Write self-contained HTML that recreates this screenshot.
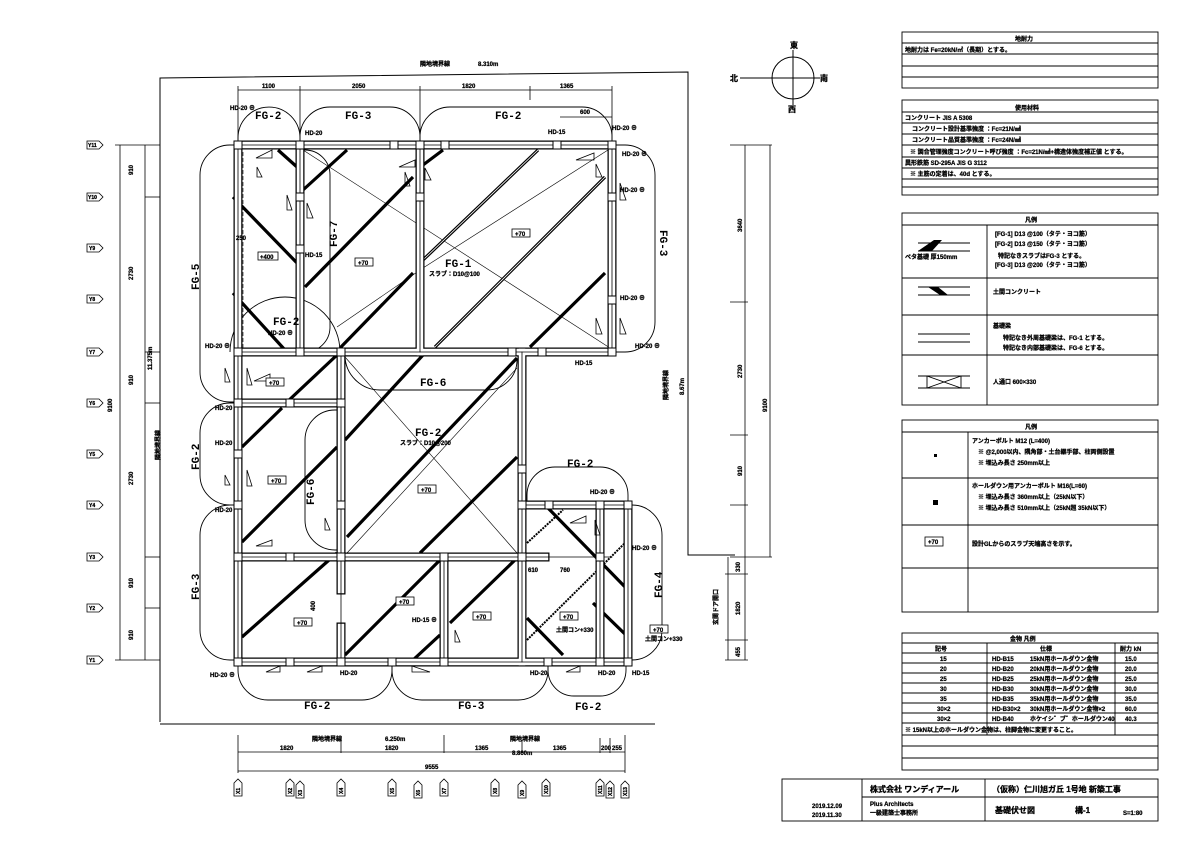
<!DOCTYPE html>
<html><head><meta charset="utf-8"><style>
html,body{margin:0;padding:0;background:#fff;}
svg{display:block;font-family:"Liberation Sans","Noto Sans CJK JP",sans-serif;}
.t{font-size:8px;font-weight:bold;fill:#000;stroke:#000;stroke-width:0.3;}
.s{font-size:6px;font-weight:bold;fill:#000;stroke:#000;stroke-width:0.25;}
.fg{font-size:11px;font-weight:bold;fill:#000;font-family:"Liberation Mono","Noto Sans CJK JP",monospace;}
</style></head><body>
<svg width="1191" height="842" viewBox="0 0 1191 842" xmlns="http://www.w3.org/2000/svg">
<rect width="1191" height="842" fill="#fff"/>
<g fill="none" stroke="#000" stroke-width="1">
<path d="M160,722 V78 L688,72 V555 H735"/>
<line x1="160" y1="724" x2="655" y2="724"/>
<circle cx="793" cy="78" r="21"/>
<line x1="740" y1="78" x2="820" y2="78"/><line x1="793" y1="50" x2="793" y2="105"/>
</g>
<text class="t" x="730" y="81">北</text><text class="t" x="790" y="48">東</text><text class="t" x="788" y="112">西</text><text class="t" x="820" y="81">南</text>

<g stroke="#000" stroke-width="0.8" fill="none">
<line x1="238" y1="90" x2="612" y2="90"/>
<line x1="238" y1="86" x2="238" y2="140"/><line x1="300" y1="86" x2="300" y2="140"/><line x1="420" y1="86" x2="420" y2="140"/><line x1="530" y1="86" x2="530" y2="100"/><line x1="612" y1="86" x2="612" y2="140"/>
<line x1="560" y1="117" x2="612" y2="117"/>
</g>
<text class="s" x="262" y="88">1100</text><text class="s" x="352" y="88">2050</text><text class="s" x="462" y="88">1820</text><text class="s" x="560" y="88">1365</text><text class="s" x="580" y="114">600</text>
<text class="s" x="420" y="66">隣地境界線</text><text class="s" x="478" y="66">8.310m</text>

<g stroke="#000" stroke-width="0.8" fill="none">
<line x1="120" y1="145" x2="120" y2="660"/><line x1="145" y1="145" x2="145" y2="660"/>
<line x1="115" y1="145" x2="160" y2="145"/><line x1="145" y1="197" x2="160" y2="197"/><line x1="145" y1="352" x2="160" y2="352"/><line x1="145" y1="403" x2="160" y2="403"/><line x1="145" y1="557" x2="160" y2="557"/><line x1="145" y1="608" x2="160" y2="608"/><line x1="115" y1="660" x2="160" y2="660"/>
</g>
<g class="s">
<text transform="translate(133,175) rotate(-90)">910</text><text transform="translate(133,280) rotate(-90)">2730</text><text transform="translate(133,385) rotate(-90)">910</text><text transform="translate(133,485) rotate(-90)">2730</text><text transform="translate(133,588) rotate(-90)">910</text><text transform="translate(133,640) rotate(-90)">910</text>
<text transform="translate(112,412) rotate(-90)">9100</text><text transform="translate(152,370) rotate(-90)">11.375m</text><text transform="translate(160,460) rotate(-90)">隣地境界線</text>
</g>
<g stroke="#000" stroke-width="0.8" fill="#fff">
<path d="M87,141 H99 L103,145 L99,149 H87 Z"/><path d="M87,193 H99 L103,197 L99,201 H87 Z"/><path d="M87,244 H99 L103,248 L99,252 H87 Z"/><path d="M87,295 H99 L103,299 L99,303 H87 Z"/><path d="M87,348 H99 L103,352 L99,356 H87 Z"/><path d="M87,399 H99 L103,403 L99,407 H87 Z"/><path d="M87,450 H99 L103,454 L99,458 H87 Z"/><path d="M87,501 H99 L103,505 L99,509 H87 Z"/><path d="M87,553 H99 L103,557 L99,561 H87 Z"/><path d="M87,604 H99 L103,608 L99,612 H87 Z"/><path d="M87,656 H99 L103,660 L99,664 H87 Z"/>
</g>
<g style="font-size:5px;font-weight:bold" stroke="#000" stroke-width="0.3">
<text x="88" y="147">Y11</text><text x="88" y="199">Y10</text><text x="89" y="250">Y9</text><text x="89" y="301">Y8</text><text x="89" y="354">Y7</text><text x="89" y="405">Y6</text><text x="89" y="456">Y5</text><text x="89" y="507">Y4</text><text x="89" y="559">Y3</text><text x="89" y="610">Y2</text><text x="89" y="662">Y1</text>
</g>

<g stroke="#000" stroke-width="0.8" fill="none">
<line x1="745" y1="145" x2="745" y2="660"/><line x1="770" y1="145" x2="770" y2="557"/>
<line x1="730" y1="145" x2="772" y2="145"/><line x1="730" y1="302" x2="748" y2="302"/><line x1="730" y1="435" x2="748" y2="435"/><line x1="730" y1="505" x2="748" y2="505"/><line x1="730" y1="557" x2="772" y2="557"/>
<line x1="728" y1="557" x2="728" y2="660"/><line x1="725" y1="574" x2="748" y2="574"/><line x1="725" y1="640" x2="748" y2="640"/><line x1="725" y1="660" x2="748" y2="660"/>
</g>
<g class="s">
<text transform="translate(742,232) rotate(-90)">3640</text><text transform="translate(742,378) rotate(-90)">2730</text><text transform="translate(742,476) rotate(-90)">910</text><text transform="translate(767,412) rotate(-90)">9100</text>
<text transform="translate(740,572) rotate(-90)">330</text><text transform="translate(740,615) rotate(-90)">1820</text><text transform="translate(740,657) rotate(-90)">455</text>
<text transform="translate(718,625) rotate(-90)">玄関ドア開口</text>
<text transform="translate(668,400) rotate(-90)">隣地境界線</text><text transform="translate(684,395) rotate(-90)">8.67m</text>
</g>

<g stroke="#000" stroke-width="0.8" fill="none">
<line x1="238" y1="752" x2="625" y2="752"/><line x1="238" y1="771" x2="625" y2="771"/>
<line x1="238" y1="735" x2="238" y2="773"/><line x1="341" y1="740" x2="341" y2="753"/><line x1="444" y1="735" x2="444" y2="753"/><line x1="522" y1="740" x2="522" y2="753"/><line x1="600" y1="738" x2="600" y2="753"/><line x1="610" y1="738" x2="610" y2="753"/><line x1="625" y1="735" x2="625" y2="773"/>
</g>
<g class="s">
<text x="280" y="750">1820</text><text x="385" y="750">1820</text><text x="475" y="750">1365</text><text x="553" y="750">1365</text><text x="601" y="750">200</text><text x="612" y="750">255</text><text x="425" y="769">9555</text>
<text x="312" y="741">隣地境界線</text><text x="385" y="741">6.250m</text><text x="510" y="741">隣地境界線</text><text x="512" y="755">8.860m</text>
</g>
<g stroke="#000" stroke-width="0.8" fill="#fff">
<path d="M234,796 V783 L238,779 L242,783 V796 Z"/><path d="M286,796 V783 L290,779 L294,783 V796 Z"/><path d="M296,798 V785 L300,781 L304,785 V798 Z"/><path d="M337,796 V783 L341,779 L345,783 V796 Z"/><path d="M388,796 V783 L392,779 L396,783 V796 Z"/><path d="M414,798 V785 L418,781 L422,785 V798 Z"/><path d="M440,796 V783 L444,779 L448,783 V796 Z"/><path d="M491,796 V783 L495,779 L499,783 V796 Z"/><path d="M518,798 V785 L522,781 L526,785 V798 Z"/><path d="M542,796 V783 L546,779 L550,783 V796 Z"/><path d="M596,796 V783 L600,779 L604,783 V796 Z"/><path d="M606,798 V785 L610,781 L614,785 V798 Z"/><path d="M621,798 V785 L625,781 L629,785 V798 Z"/>
</g>
<g style="font-size:5px;font-weight:bold" stroke="#000" stroke-width="0.3">
<text transform="translate(240,794) rotate(-90)">X1</text><text transform="translate(292,794) rotate(-90)">X2</text><text transform="translate(302,796) rotate(-90)">X3</text><text transform="translate(343,794) rotate(-90)">X4</text><text transform="translate(394,794) rotate(-90)">X5</text><text transform="translate(420,796) rotate(-90)">X6</text><text transform="translate(446,794) rotate(-90)">X7</text><text transform="translate(497,794) rotate(-90)">X8</text><text transform="translate(524,796) rotate(-90)">X9</text><text transform="translate(548,794) rotate(-90)">X10</text><text transform="translate(602,794) rotate(-90)">X11</text><text transform="translate(612,796) rotate(-90)">X12</text><text transform="translate(627,796) rotate(-90)">X13</text>
</g>

<g fill="none" stroke="#000" stroke-width="0.9">
<path d="M238,145 V138 A31,31 0 0 1 300,138 V145"/>
<path d="M300,145 V137 A30,30 0 0 1 330,107 H390 A30,30 0 0 1 420,137 V145"/>
<path d="M420,145 V137 A30,30 0 0 1 450,107 H582 A30,30 0 0 1 612,137 V145"/>
<path d="M612,145 H625 A30,30 0 0 1 655,175 V322 A30,30 0 0 1 625,352 H612"/>
<path d="M238,145 H230 A30,30 0 0 0 200,175 V372 A30,30 0 0 0 230,402 H238"/>
<path d="M238,403 H230 A30,30 0 0 0 200,433 V475 A30,30 0 0 0 230,505 H238"/>
<path d="M238,505 H230 A30,30 0 0 0 200,535 V630 A30,30 0 0 0 230,660 H238"/>
<path d="M238,662 V670 A30,30 0 0 0 268,700 H362 A30,30 0 0 0 392,670 V662"/>
<path d="M392,662 V670 A30,30 0 0 0 422,700 H518 A30,30 0 0 0 548,670 V662"/>
<path d="M548,662 V670 A26,26 0 0 0 574,696 H600 A26,26 0 0 0 626,670 V662"/>
<path d="M628,505 H632 A30,30 0 0 1 662,535 V630 A30,30 0 0 1 632,660 H628"/>
<path d="M527,505 V495 A28,28 0 0 1 555,467 H600 A28,28 0 0 1 628,495 V505"/>
<path d="M341,410 H335 A30,30 0 0 0 305,440 V520 A30,30 0 0 0 335,550 H341"/>
<path d="M345,355 A35,35 0 0 0 380,390 H487 A30,30 0 0 0 517,360"/>
<path d="M300,150 H305 A25,25 0 0 1 330,175 V328 A25,25 0 0 1 305,352"/>
<path d="M230,352 A40,40 0 0 1 340,352"/>
</g>

<g stroke="#000" stroke-width="0.6">
<line x1="303" y1="150" x2="610" y2="348"/><line x1="337" y1="327" x2="423" y2="268"/><line x1="423" y1="268" x2="608" y2="150"/>
<line x1="345" y1="357" x2="517" y2="553"/><line x1="347" y1="553" x2="517" y2="368"/>
<line x1="243" y1="152" x2="243" y2="348" stroke-dasharray="4,2"/>
</g>
<g stroke="#000" stroke-width="3.2" stroke-linecap="butt">
<line x1="233" y1="197" x2="297" y2="263"/><line x1="233" y1="293" x2="285" y2="350"/><line x1="278" y1="150" x2="297" y2="167"/>
<line x1="303" y1="190" x2="347" y2="150"/><line x1="305" y1="287" x2="413" y2="177"/><line x1="340" y1="348" x2="413" y2="273"/>
<line x1="423" y1="165" x2="443" y2="150"/><line x1="423" y1="260" x2="538" y2="150"/><line x1="435" y1="347" x2="605" y2="177"/><line x1="530" y1="347" x2="605" y2="273"/>
<line x1="242" y1="542" x2="337" y2="447"/><line x1="242" y1="447" x2="282" y2="408"/><line x1="287" y1="402" x2="337" y2="355"/><line x1="242" y1="637" x2="337" y2="553"/>
<line x1="345" y1="440" x2="423" y2="355"/><line x1="347" y1="537" x2="517" y2="358"/><line x1="420" y1="553" x2="517" y2="457"/>
<line x1="345" y1="655" x2="440" y2="560"/><line x1="450" y1="623" x2="515" y2="560"/><line x1="413" y1="660" x2="440" y2="635"/>
<line x1="547" y1="507" x2="628" y2="590"/><line x1="527" y1="618" x2="563" y2="655"/><line x1="593" y1="603" x2="628" y2="637"/>
</g>
<g stroke="#fff" stroke-width="0.8">
<line x1="423" y1="260" x2="538" y2="150"/><line x1="435" y1="347" x2="605" y2="177"/>
</g>
<g stroke="#000" stroke-width="2" stroke-dasharray="2,1">
<line x1="527" y1="640" x2="628" y2="540"/><line x1="527" y1="543" x2="563" y2="510"/>
</g>

<g stroke-linecap="square">
<g stroke="#000" stroke-width="9">
<line x1="238" y1="145" x2="612" y2="145"/><line x1="238" y1="352" x2="612" y2="352"/><line x1="238" y1="403" x2="341" y2="403"/><line x1="238" y1="557" x2="545" y2="557"/><line x1="522" y1="505" x2="628" y2="505"/><line x1="238" y1="662" x2="628" y2="662"/>
<line x1="238" y1="145" x2="238" y2="662"/><line x1="300" y1="145" x2="300" y2="352"/><line x1="420" y1="145" x2="420" y2="352"/><line x1="612" y1="145" x2="612" y2="352"/><line x1="341" y1="352" x2="341" y2="590"/><line x1="341" y1="627" x2="341" y2="662"/><line x1="522" y1="352" x2="522" y2="662"/><line x1="444" y1="557" x2="444" y2="662"/><line x1="600" y1="505" x2="600" y2="662"/><line x1="628" y1="505" x2="628" y2="662"/>
</g>
<g stroke="#fff" stroke-width="6.5">
<line x1="238" y1="145" x2="612" y2="145"/><line x1="238" y1="352" x2="612" y2="352"/><line x1="238" y1="403" x2="341" y2="403"/><line x1="238" y1="557" x2="545" y2="557"/><line x1="522" y1="505" x2="628" y2="505"/><line x1="238" y1="662" x2="628" y2="662"/>
<line x1="238" y1="145" x2="238" y2="662"/><line x1="300" y1="145" x2="300" y2="352"/><line x1="420" y1="145" x2="420" y2="352"/><line x1="612" y1="145" x2="612" y2="352"/><line x1="341" y1="352" x2="341" y2="590"/><line x1="341" y1="627" x2="341" y2="662"/><line x1="522" y1="352" x2="522" y2="662"/><line x1="444" y1="557" x2="444" y2="662"/><line x1="600" y1="505" x2="600" y2="662"/><line x1="628" y1="505" x2="628" y2="662"/>
</g>
<g stroke="#000" stroke-width="0.8">
<line x1="238" y1="145" x2="612" y2="145"/><line x1="238" y1="352" x2="612" y2="352"/><line x1="238" y1="403" x2="341" y2="403"/><line x1="238" y1="557" x2="612" y2="557"/><line x1="522" y1="505" x2="628" y2="505"/><line x1="238" y1="662" x2="628" y2="662"/>
<line x1="238" y1="145" x2="238" y2="662"/><line x1="300" y1="145" x2="300" y2="352"/><line x1="420" y1="145" x2="420" y2="352"/><line x1="612" y1="145" x2="612" y2="352"/><line x1="341" y1="352" x2="341" y2="662"/><line x1="522" y1="352" x2="522" y2="662"/><line x1="444" y1="557" x2="444" y2="662"/><line x1="600" y1="505" x2="600" y2="662"/><line x1="628" y1="505" x2="628" y2="662"/>
</g>
</g>
<g fill="#fff" stroke="#000" stroke-width="1">
<rect x="234" y="141" width="8" height="8"/><rect x="296" y="141" width="8" height="8"/><rect x="390" y="141" width="8" height="8"/><rect x="416" y="141" width="8" height="8"/><rect x="441" y="141" width="8" height="8"/><rect x="553" y="141" width="8" height="8"/><rect x="608" y="141" width="8" height="8"/>
<rect x="296" y="193" width="8" height="8"/><rect x="296" y="245" width="8" height="8"/><rect x="416" y="193" width="8" height="8"/><rect x="608" y="193" width="8" height="8"/><rect x="608" y="296" width="8" height="8"/>
<rect x="234" y="348" width="8" height="8"/><rect x="296" y="348" width="8" height="8"/><rect x="337" y="348" width="8" height="8"/><rect x="508" y="348" width="8" height="8"/><rect x="538" y="348" width="8" height="8"/><rect x="608" y="348" width="8" height="8"/>
<rect x="234" y="399" width="8" height="8"/><rect x="286" y="399" width="8" height="8"/><rect x="337" y="399" width="8" height="8"/><rect x="234" y="450" width="8" height="8"/><rect x="234" y="501" width="8" height="8"/><rect x="337" y="501" width="8" height="8"/><rect x="518" y="465" width="8" height="8"/><rect x="518" y="501" width="8" height="8"/><rect x="545" y="501" width="8" height="8"/><rect x="596" y="501" width="8" height="8"/><rect x="624" y="501" width="8" height="8"/>
<rect x="234" y="553" width="8" height="8"/><rect x="286" y="553" width="8" height="8"/><rect x="337" y="553" width="8" height="8"/><rect x="440" y="553" width="8" height="8"/><rect x="518" y="553" width="8" height="8"/><rect x="596" y="553" width="8" height="8"/>
<rect x="234" y="658" width="8" height="8"/><rect x="286" y="658" width="8" height="8"/><rect x="337" y="658" width="8" height="8"/><rect x="388" y="658" width="8" height="8"/><rect x="440" y="658" width="8" height="8"/><rect x="544" y="658" width="8" height="8"/><rect x="596" y="658" width="8" height="8"/><rect x="624" y="658" width="8" height="8"/>
</g>
<g fill="none" stroke="#000" stroke-width="0.8">
<path d="M256,158 L272,150 V158 Z"/><path d="M257,177 V167 L262,177 Z"/><path d="M287,210 V195 L292,210 Z"/><path d="M307,218 V203 L313,218 Z"/><path d="M399,167 L415,160 V167 Z"/><path d="M405,172 V186 L410,186 Z"/>
<path d="M576,160 L594,153 V160 Z"/><path d="M596,164 V177 L602,177 Z"/><path d="M596,318 V334 L602,334 Z"/><path d="M620,183 V200 L626,200 Z"/><path d="M620,318 V334 L626,334 Z"/><path d="M425,168 V180 L431,180 Z"/>
<path d="M225,368 V382 L230,382 Z"/><path d="M254,381 L270,374 V381 Z"/><path d="M247,368 V385 L252,385 Z"/><path d="M225,475 V485 L230,485 Z"/><path d="M247,470 V486 L252,486 Z"/><path d="M256,546 L272,540 V546 Z"/><path d="M325,518 V530 L330,530 Z"/>
<path d="M266,672 L280,666 V672 Z"/><path d="M307,672 L322,666 V672 Z"/><path d="M412,666 V672 L430,672 Z"/><path d="M566,672 L580,666 V672 Z"/><path d="M570,523 L586,516 V523 Z"/><path d="M595,520 V535 L600,535 Z"/><path d="M455,630 V642 L460,642 Z"/>
</g>
<g fill="#fff" stroke="#000" stroke-width="0.8">
<rect x="258" y="252" width="20" height="8"/><rect x="355" y="258" width="18" height="8"/><rect x="512" y="229" width="18" height="8"/><rect x="266" y="378" width="18" height="8"/><rect x="268" y="476" width="18" height="8"/><rect x="418" y="485" width="18" height="8"/><rect x="396" y="597" width="18" height="8"/><rect x="473" y="612" width="18" height="8"/><rect x="294" y="618" width="18" height="8"/><rect x="560" y="612" width="18" height="8"/><rect x="650" y="625" width="18" height="8"/><rect x="925" y="537" width="18" height="9"/>
</g>
<g class="s">
<text x="260" y="259">+400</text><text x="358" y="265">+70</text><text x="515" y="236">+70</text><text x="269" y="385">+70</text><text x="271" y="483">+70</text><text x="421" y="492">+70</text><text x="399" y="604">+70</text><text x="476" y="619">+70</text><text x="297" y="625">+70</text><text x="563" y="619">+70</text><text x="653" y="632">+70</text><text x="928" y="544">+70</text>
<text x="236" y="240">250</text><text x="315" y="611" transform="rotate(-90 315 611)">400</text><text x="528" y="572">610</text><text x="560" y="572">760</text>
<text x="429" y="276">スラブ：D10@100</text><text x="400" y="445">スラブ：D10@200</text><text x="556" y="632">土間コン+330</text><text x="645" y="641">土間コン+330</text>
<text x="230" y="110">HD-20 ⊕</text><text x="305" y="135">HD-20</text><text x="548" y="134">HD-15</text><text x="612" y="130">HD-20 ⊕</text><text x="622" y="156">HD-20 ⊕</text><text x="620" y="192">HD-20 ⊕</text><text x="620" y="300">HD-20 ⊕</text><text x="635" y="348">HD-20 ⊕</text><text x="575" y="365">HD-15</text><text x="205" y="348">HD-20 ⊕</text><text x="268" y="335">HD-20 ⊕</text><text x="305" y="257">HD-15</text>
<text x="215" y="410">HD-20</text><text x="215" y="445">HD-20</text><text x="215" y="512">HD-20</text><text x="210" y="677">HD-20 ⊕</text><text x="340" y="675">HD-20</text><text x="530" y="675">HD-20</text><text x="598" y="675">HD-20</text><text x="632" y="675">HD-15</text><text x="590" y="494">HD-20 ⊕</text><text x="632" y="550">HD-20 ⊕</text><text x="412" y="622">HD-15 ⊕</text>
</g>
<g class="fg">
<text x="255" y="119">FG-2</text><text x="345" y="119">FG-3</text><text x="495" y="119">FG-2</text><text x="273" y="325">FG-2</text><text x="445" y="267">FG-1</text><text x="420" y="386">FG-6</text><text x="415" y="436">FG-2</text><text x="567" y="467">FG-2</text>
<text x="304" y="709">FG-2</text><text x="458" y="709">FG-3</text><text x="575" y="710">FG-2</text>
<text transform="translate(660,230) rotate(90)">FG-3</text><text transform="translate(199,290) rotate(-90)">FG-5</text><text transform="translate(199,470) rotate(-90)">FG-2</text><text transform="translate(199,600) rotate(-90)">FG-3</text><text transform="translate(337,247) rotate(-90)">FG-7</text><text transform="translate(314,505) rotate(-90)">FG-6</text><text transform="translate(662,598) rotate(-90)">FG-4</text>
</g>

<g fill="none" stroke="#000" stroke-width="0.9">
<rect x="902" y="32" width="256" height="56"/>
<line x1="902" y1="43" x2="1158" y2="43"/><line x1="902" y1="54" x2="1158" y2="54"/><line x1="902" y1="66" x2="1158" y2="66"/><line x1="902" y1="77" x2="1158" y2="77"/>
<rect x="902" y="100" width="256" height="95"/>
<line x1="902" y1="112" x2="1158" y2="112"/><line x1="902" y1="123" x2="1158" y2="123"/><line x1="902" y1="134" x2="1158" y2="134"/><line x1="902" y1="145" x2="1158" y2="145"/><line x1="902" y1="157" x2="1158" y2="157"/><line x1="902" y1="168" x2="1158" y2="168"/><line x1="902" y1="179" x2="1158" y2="179"/><line x1="902" y1="187" x2="1158" y2="187"/>
<rect x="902" y="213" width="256" height="192"/>
<line x1="902" y1="225" x2="1158" y2="225"/><line x1="902" y1="278" x2="1158" y2="278"/><line x1="902" y1="315" x2="1158" y2="315"/><line x1="902" y1="355" x2="1158" y2="355"/><line x1="987" y1="225" x2="987" y2="405"/>
<line x1="918" y1="243" x2="970" y2="243"/><line x1="918" y1="251" x2="970" y2="251"/><line x1="918" y1="287" x2="970" y2="287"/><line x1="918" y1="295" x2="970" y2="295"/><line x1="918" y1="334" x2="970" y2="334"/><line x1="918" y1="342" x2="970" y2="342"/>
<line x1="918" y1="376" x2="970" y2="376"/><line x1="918" y1="388" x2="970" y2="388"/><rect x="927" y="376" width="34" height="12"/><path d="M927,376 L944,382 L927,388 M961,376 L944,382 L961,388"/>
<rect x="902" y="420" width="256" height="192"/>
<line x1="902" y1="432" x2="1158" y2="432"/><line x1="902" y1="478" x2="1158" y2="478"/><line x1="902" y1="525" x2="1158" y2="525"/><line x1="902" y1="568" x2="1158" y2="568"/><line x1="968" y1="432" x2="968" y2="612"/>
<rect x="902" y="633" width="256" height="137"/>
<line x1="902" y1="643" x2="1158" y2="643"/><line x1="902" y1="653" x2="1158" y2="653"/><line x1="902" y1="663" x2="1158" y2="663"/><line x1="902" y1="673" x2="1158" y2="673"/><line x1="902" y1="683" x2="1158" y2="683"/><line x1="902" y1="693" x2="1158" y2="693"/><line x1="902" y1="703" x2="1158" y2="703"/><line x1="902" y1="713" x2="1158" y2="713"/><line x1="902" y1="723" x2="1158" y2="723"/><line x1="902" y1="735" x2="1158" y2="735"/><line x1="902" y1="746" x2="1158" y2="746"/><line x1="902" y1="758" x2="1158" y2="758"/>
<line x1="987" y1="643" x2="987" y2="735"/><line x1="1115" y1="643" x2="1115" y2="735"/>
<rect x="782" y="779" width="376" height="42"/>
<line x1="862" y1="779" x2="862" y2="821"/><line x1="985" y1="779" x2="985" y2="821"/><line x1="862" y1="797" x2="1158" y2="797"/>
</g>
<path d="M918,251 L932,251 L942,240 L934,240 Z" fill="#000"/><path d="M928,287 L940,295 L948,295 L938,287 Z" fill="#000"/>
<rect x="934" y="454" width="3" height="3" fill="#000"/><rect x="933" y="500" width="5" height="5" fill="#000"/>
<g class="s">
<text x="1015" y="41">地耐力</text><text x="905" y="52">地耐力は Fe=20kN/㎡（長期）とする。</text>
<text x="1015" y="110">使用材料</text><text x="905" y="120">コンクリート JIS A 5308</text><text x="912" y="131">コンクリート設計基準強度 ：Fc=21N/㎟</text><text x="912" y="142">コンクリート品質基準強度 ：Fc=24N/㎟</text><text x="910" y="154">※ 調合管理強度コンクリート呼び強度 ：Fc=21N/㎟+構造体強度補正値 とする。</text><text x="905" y="165">異形鉄筋 SD-295A JIS G 3112</text><text x="910" y="176">※ 主筋の定着は、40d とする。</text>
<text x="1025" y="222">凡例</text>
<text x="995" y="236">[FG-1] D13 @100（タテ・ヨコ筋）</text><text x="995" y="246">[FG-2] D13 @150（タテ・ヨコ筋）</text><text x="998" y="258">特記なきスラブはFG-3 とする。</text><text x="995" y="267">[FG-3] D13 @200（タテ・ヨコ筋）</text><text x="905" y="259">ベタ基礎 厚150mm</text>
<text x="993" y="294">土間コンクリート</text><text x="993" y="328">基礎梁</text><text x="1003" y="340">特記なき外周基礎梁は、FG-1 とする。</text><text x="1003" y="350">特記なき内部基礎梁は、FG-6 とする。</text><text x="993" y="384">人通口 600×330</text>
<text x="1025" y="429">凡例</text>
<text x="972" y="443">アンカーボルト M12 (L=400)</text><text x="978" y="454">※ @2,000以内、隅角部・土台継手部、柱両側設置</text><text x="978" y="465">※ 埋込み長さ 250mm以上</text>
<text x="972" y="488">ホールダウン用アンカーボルト M16(L=60)</text><text x="978" y="499">※ 埋込み長さ 360mm以上（25kN以下）</text><text x="978" y="510">※ 埋込み長さ 510mm以上（25kN超 35kN以下）</text>
<text x="972" y="546">設計GLからのスラブ天端高さを示す。</text>
<text x="1010" y="641">金物 凡例</text><text x="935" y="651">記号</text><text x="1040" y="651">仕様</text><text x="1120" y="651">耐力 kN</text>
<text x="940" y="661">15</text><text x="992" y="661">HD-B15</text><text x="1030" y="661">15kN用ホールダウン金物</text><text x="1125" y="661">15.0</text>
<text x="940" y="671">20</text><text x="992" y="671">HD-B20</text><text x="1030" y="671">20kN用ホールダウン金物</text><text x="1125" y="671">20.0</text>
<text x="940" y="681">25</text><text x="992" y="681">HD-B25</text><text x="1030" y="681">25kN用ホールダウン金物</text><text x="1125" y="681">25.0</text>
<text x="940" y="691">30</text><text x="992" y="691">HD-B30</text><text x="1030" y="691">30kN用ホールダウン金物</text><text x="1125" y="691">30.0</text>
<text x="940" y="701">35</text><text x="992" y="701">HD-B35</text><text x="1030" y="701">35kN用ホールダウン金物</text><text x="1125" y="701">35.0</text>
<text x="937" y="711">30×2</text><text x="992" y="711">HD-B30×2</text><text x="1030" y="711">30kN用ホールダウン金物×2</text><text x="1125" y="711">60.0</text>
<text x="937" y="721">30×2</text><text x="992" y="721">HD-B40</text><text x="1030" y="721">ホケイシ゛ブ゛ホールダウン40</text><text x="1125" y="721">40.3</text>
<text x="905" y="732">※ 15kN以上のホールダウン金物は、柱脚金物に変更すること。</text>
</g>
<g class="t">
<text x="870" y="792">株式会社 ワンディアール</text><text x="992" y="792">（仮称）仁川旭ガ丘 1号地 新築工事</text>
<text x="812" y="808" class="s">2019.12.09</text><text x="812" y="817" class="s">2019.11.30</text>
<text x="870" y="806" class="s">Plus Architects</text><text x="870" y="815" class="s">一級建築士事務所</text>
<text x="995" y="813">基礎伏せ図</text><text x="1075" y="813">構-1</text><text x="1123" y="815" class="s">S=1:80</text>
</g>
</svg>
</body></html>
